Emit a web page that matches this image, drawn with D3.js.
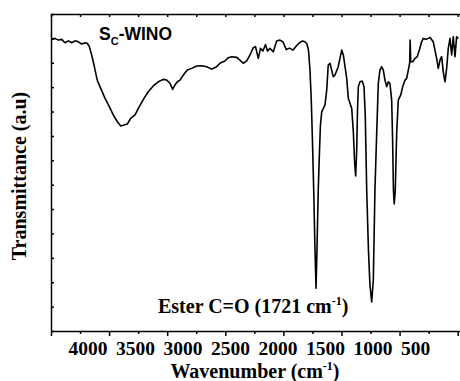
<!DOCTYPE html>
<html>
<head>
<meta charset="UTF-8">
<script src="https://cdn.jsdelivr.net/npm/d3@7"></script>
<style>
body{
    margin:0;
    background-color:#fff;
}
.axis path, .axis line{
    stroke:#000;
    stroke-width:1.5;
}
.serif{
    font-family:"Liberation Serif","Times New Roman",serif;
    font-weight:bold;
}
</style>
</head>
<body>
<script>

// FTIR spectrum: wavenumber (cm-1) and transmittance (a.u.)
var wavenumber = [3994,3966,3937,3908,3880,3851,3822,3793,3765,3736,3707,3688,3670,3650,3627,3602,3572,3535,3498,3464,
    3429,3400,3372,3343,3314,3277,3240,3200,3163,3120,3077,3034,3004,2976,2953,2933,2913,2890,2861,2827,
    2789,2746,2703,2660,2617,2574,2546,2503,2474,2445,2402,2374,2345,2316,2287,2259,2240,2216,2197,2176,
    2154,2137,2115,2087,2058,2029,2003,1975,1947,1917,1887,1857,1834,1814,1797,1784,1771,1760,1750,1739,
    1728,1719,1711,1700,1689,1681,1670,1642,1627,1614,1599,1571,1556,1528,1498,1484,1455,1441,1427,1412,
    1398,1388,1378,1369,1362,1355,1341,1321,1306,1295,1283,1268,1255,1240,1226,1212,1197,1183,1169,1154,
    1140,1126,1111,1097,1083,1068,1060,1053,1046,1037,1025,1011,990,973,953,939,925,913,909,904,
    887,867,848,830,810,796,773,753,738,710,681,667,652,638,624,609,595,581,566,552,
    538,523,509,495];
var transmittance = [119.6,120.0,119.3,119.6,118.2,119.0,118.2,119.0,118.6,117.7,118.2,118.0,116.6,113.2,108.4,102.9,99.5,95.4,92.0,88.6,
    85.8,84.1,84.5,84.9,87.2,88.6,92.0,95.4,98.1,100.5,102.2,103.2,102.9,101.6,99.1,100.9,102.2,102.9,105.0,107.0,
    107.7,108.7,108.8,108.4,107.4,108.4,109.8,110.7,112.1,112.5,112.2,111.1,109.8,110.8,113.2,116.2,116.6,111.8,115.9,114.8,
    117.5,114.8,115.9,114.5,118.9,119.3,118.5,115.4,116.0,115.2,117.0,118.4,118.9,118.6,117.7,115.2,107.0,94.7,78.3,57.8,
    33.2,17.5,33.2,57.8,74.2,84.5,89.9,92.7,98.8,109.1,109.8,104.3,105.0,108.4,115.2,113.2,103.6,95.4,93.4,91.3,
    81.7,70.1,63.6,74.2,90.6,100.2,102.2,102.5,100.2,87.9,57.8,33.2,18.9,11.9,20.9,57.8,81.2,101.6,107.0,108.4,
    107.0,102.9,100.2,102.2,101.6,94.7,78.3,57.8,52.1,57.8,81.2,94.7,96.8,100.2,102.9,103.6,107.0,109.9,119.3,110.4,
    110.4,111.8,112.5,115.2,118.6,120.0,119.6,120.0,120.4,118.6,111.8,107.7,111.1,112.5,106.3,102.2,107.7,115.9,120.0,113.2,
    120.7,112.5,120.7,120.0];

var xMajor = [4000,3500,3000,2500,2000,1500,1000,500];
var xMinor = [3750,3250,2750,2250,1750,1250,750];
var xTopTicks = [4000,3750,3500,3250,3000,2750,2500,2250,2000,1750,1500,1250,1000,750,500];
var xTickLabels = ["4000","3500","3000","2500","2000","1500","1000","500"];
var yTicks = [0,10,20,30,40,50,60,70,80,90,100,110,120,130];

var data = wavenumber.map(function(w,i){ return {w:w, t:transmittance[i]}; });

var width = 460, height = 381;
var margin = {left: 51, right: 460, top: 14, bottom: 331};

var x = d3.scaleLinear().domain([4000,480]).range([margin.left,margin.right]);
var y = d3.scaleLinear().domain([0,130]).range([margin.bottom,margin.top]);
// the printed numbers sit apart from the ticks in the source figure
var xLabelPos = d3.scaleLinear().domain([4000,500]).range([68.5,401]);

var svg = d3.select("body").append("svg")
    .attr("width",width)
    .attr("height",height);

svg.append("g")
    .attr("class","axis")
    .attr("transform","translate(0,"+margin.bottom+")")
    .call(d3.axisBottom(x).tickValues(xMajor).tickSizeInner(5).tickSizeOuter(0).tickFormat(""));

svg.append("g")
    .attr("class","axis")
    .attr("transform","translate(0,"+margin.bottom+")")
    .call(d3.axisBottom(x).tickValues(xMinor).tickSizeInner(3).tickSizeOuter(0).tickFormat(""))
    .select(".domain").remove();

svg.append("g")
    .attr("class","axis")
    .attr("transform","translate(0,"+margin.top+")")
    .call(d3.axisTop(x).tickValues(xTopTicks).tickSizeInner(-3).tickSizeOuter(0).tickFormat(""));

svg.append("g")
    .attr("class","axis")
    .attr("transform","translate("+margin.left+",0)")
    .call(d3.axisLeft(y).tickValues(yTicks).tickSizeInner(-3).tickSizeOuter(0).tickFormat(""));

svg.selectAll(".xlab")
    .data(xTickLabels)
    .enter().append("text")
    .attr("class","serif xlab")
    .attr("x",function(d){ return xLabelPos(+d); })
    .attr("y",355)
    .attr("font-size",19.5)
    .text(function(d){ return d; });

var line = d3.line()
    .x(function(d){ return x(d.w); })
    .y(function(d){ return y(d.t); });

svg.append("path")
    .datum(data)
    .attr("fill","none")
    .attr("stroke","#000")
    .attr("stroke-width",1.6)
    .attr("stroke-linejoin","round")
    .attr("d",line);

var xTitle = svg.append("text")
    .attr("class","serif")
    .attr("x",255)
    .attr("y",378)
    .attr("font-size",20)
    .attr("text-anchor","middle");
xTitle.append("tspan").text("Wavenumber (cm");
xTitle.append("tspan").attr("font-size",12).attr("dy",-8).text("-1");
xTitle.append("tspan").attr("dy",8).text(")");

svg.append("text")
    .attr("class","serif")
    .attr("transform","translate(26,176) rotate(-90)")
    .attr("font-size",20)
    .attr("text-anchor","middle")
    .text("Transmittance (a.u)");

var ester = svg.append("text")
    .attr("class","serif")
    .attr("x",158)
    .attr("y",312.5)
    .attr("font-size",20);
ester.append("tspan").text("Ester C=O (1721 cm");
ester.append("tspan").attr("font-size",12).attr("dy",-8).text("-1");
ester.append("tspan").attr("dy",8).text(")");

var sample = svg.append("text")
    .attr("x",99)
    .attr("y",40)
    .attr("font-family","'Liberation Sans', Arial, sans-serif")
    .attr("font-weight","bold")
    .attr("font-size",17.5);
sample.append("tspan").text("S");
sample.append("tspan").attr("font-size",11).attr("dy",5).text("C");
sample.append("tspan").attr("dy",-5).text("-WINO");

</script>
</body>
</html>
